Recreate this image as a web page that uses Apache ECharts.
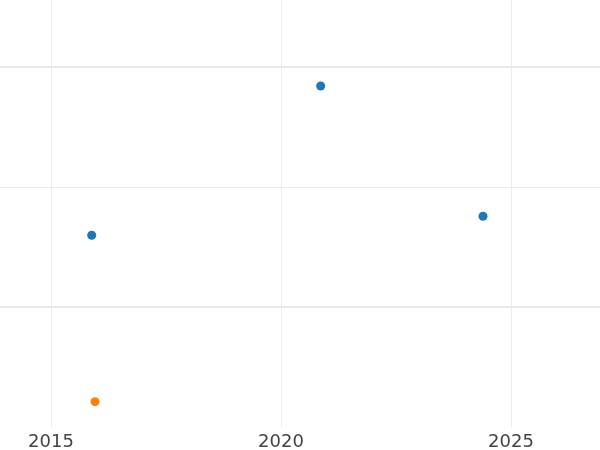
<!DOCTYPE html>
<html>
<head>
<meta charset="utf-8">
<script src="https://cdn.jsdelivr.net/npm/echarts@6/dist/echarts.min.js"></script>
<style>
html,body{margin:0;padding:0;background:#fff;overflow:hidden;width:600px;height:450px;position:relative}
#c{position:absolute;left:-230px;top:-99px;width:1060px;height:550px}
</style>
</head>
<body>
<div id="c"></div>
<script>
var blueX = [2015.885, 2020.863, 2024.391];
var blueY = [1.598, 2.842, 1.756];
var orangeX = [2015.957];
var orangeY = [0.211];
var majorY = [1, 3];
var xTicks = [2015, 2020, 2025];

function pairs(xs, ys) { return xs.map(function (x, i) { return [x, ys[i]]; }); }

var chart = echarts.init(document.getElementById('c'), null, { renderer: 'canvas' });
chart.setOption({
  animation: false,
  backgroundColor: '#ffffff',
  grid: { left: 51, right: 89, top: 46, bottom: 24, containLabel: false },
  xAxis: {
    type: 'value', min: 2010, max: 2030, interval: 5,
    axisLine: { show: false }, axisTick: { show: false },
    axisLabel: {
      color: '#444444', fontSize: 18, fontFamily: 'DejaVu Sans', margin: 6,
      formatter: function (v) { return xTicks.indexOf(v) >= 0 ? String(v) : ''; }
    },
    splitLine: { show: true, lineStyle: { color: '#ebebeb', width: 1 } }
  },
  yAxis: {
    type: 'value', min: 0, max: 4, interval: 1,
    axisLine: { show: false }, axisTick: { show: false }, axisLabel: { show: false },
    splitLine: { show: true, showMinLine: false, lineStyle: { color: '#ebebeb', width: 1 } }
  },
  series: [
    {
      type: 'scatter', data: pairs(blueX, blueY), symbolSize: 9,
      itemStyle: { color: '#1f77b4', opacity: 1 }, z: 3,
      markLine: {
        silent: true, symbol: 'none', label: { show: false },
        lineStyle: { color: '#e8e8e8', width: 2, type: 'solid' },
        data: majorY.map(function (v) { return { yAxis: v }; }),
        z: 1
      }
    },
    {
      type: 'scatter', data: pairs(orangeX, orangeY), symbolSize: 9,
      itemStyle: { color: '#ff7f0e', opacity: 1 }, z: 3
    }
  ]
});
</script>
</body>
</html>
